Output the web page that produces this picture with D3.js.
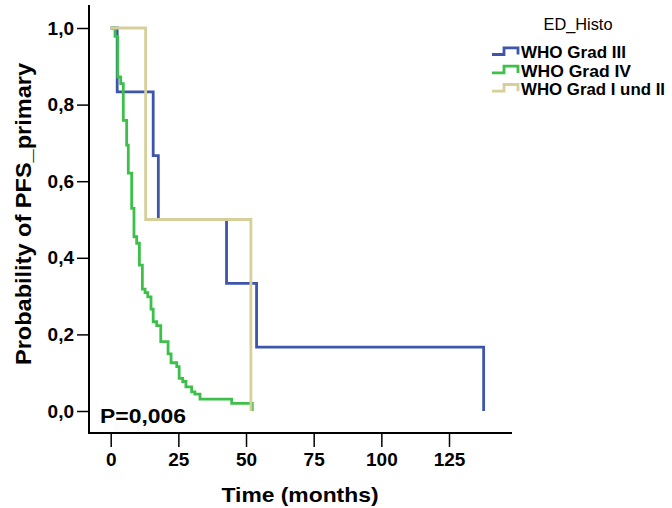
<!DOCTYPE html>
<html>
<head>
<meta charset="utf-8">
<script src="https://cdn.jsdelivr.net/npm/d3@7"></script>
<style>
  html, body { margin: 0; padding: 0; background: #fff; }
  text { font-family: Arial, "Liberation Sans", sans-serif; }
</style>
</head>
<body>
<svg id="chart" width="672" height="508"></svg>
<script>
// ---- Data ----
const seriesNames = ["WHO Grad III", "WHO Grad IV", "WHO Grad I und II"];
const legendTitle = "ED_Histo";
const xTicks = [0, 25, 50, 75, 100, 125];
const yTicks = [0, 0.2, 0.4, 0.6, 0.8, 1.0];
const pText = "P=0,006";

// WHO Grad III: event times (months) and survival after each event
const grade3Times = [0, 2.4, 15.7, 17.6, 42.8, 53.9, 137.8];
const grade3Surv  = [1, 0.833, 0.667, 0.5, 0.333, 0.167, 0];

// WHO Grad IV
const grade4Times = [0, 1.6, 2.6, 3.7, 4.65, 5.9, 6.5, 7.75, 8.6, 9.6, 10.6, 11.7, 12.7, 13.7, 14.9, 15.7, 17.0, 18.5, 21.2, 22.3, 24.4, 25.3, 26.6, 27.8, 29.9, 31.1, 33.0, 44.7, 52.3];
const grade4Surv  = [1, 0.978, 0.872, 0.855, 0.759, 0.694, 0.621, 0.529, 0.455, 0.438, 0.381, 0.318, 0.309, 0.298, 0.266, 0.233, 0.223, 0.181, 0.149, 0.126, 0.116, 0.085, 0.077, 0.063, 0.050, 0.044, 0.031, 0.020, 0];

// WHO Grad I und II
const grade12Times = [0, 12.9, 51.8];
const grade12Surv  = [1, 0.5, 0];

const colors = ["#3d56ab", "#3cc04a", "#d6cf9a"];

// ---- Layout ----
const svg = d3.select("#chart");
const x = d3.scaleLinear().domain([0, 125]).range([110.7, 449]);
const y = d3.scaleLinear().domain([0, 1]).range([411, 28]);
const axisX = 89, axisY = 433;

// Axes lines
svg.append("line").attr("x1", axisX).attr("x2", axisX).attr("y1", 5).attr("y2", axisY + 1)
  .attr("stroke", "#000").attr("stroke-width", 2);
svg.append("line").attr("x1", axisX - 1).attr("x2", 512).attr("y1", axisY).attr("y2", axisY)
  .attr("stroke", "#000").attr("stroke-width", 2);

// Y axis ticks
const yAxis = d3.axisLeft(y).tickValues(yTicks).tickSize(12).tickPadding(3)
  .tickFormat(d => d3.format(".1f")(d).replace(".", ","));
const gy = svg.append("g").attr("transform", `translate(${axisX},0)`).call(yAxis);
gy.select(".domain").remove();
gy.selectAll(".tick line").attr("stroke", "#000").attr("stroke-width", 1.5);
gy.selectAll(".tick text").attr("fill", "#000").attr("font-size", 19).attr("font-weight", "bold")
  .attr("font-family", "Arial, 'Liberation Sans', sans-serif");

// X axis ticks
const xAxis = d3.axisBottom(x).tickValues(xTicks).tickSize(14).tickPadding(6).tickFormat(d3.format("d"));
const gx = svg.append("g").attr("transform", `translate(0,${axisY})`).call(xAxis);
gx.select(".domain").remove();
gx.selectAll(".tick line").attr("stroke", "#000").attr("stroke-width", 1.5);
gx.selectAll(".tick text").attr("fill", "#000").attr("font-size", 19).attr("font-weight", "bold")
  .attr("font-family", "Arial, 'Liberation Sans', sans-serif");

// Axis titles
svg.append("text").attr("x", 300).attr("y", 502).attr("text-anchor", "middle")
  .attr("font-size", 21).attr("font-weight", "bold")
  .attr("textLength", 157).attr("lengthAdjust", "spacingAndGlyphs")
  .text("Time (months)");
svg.append("text").attr("transform", "translate(31,214) rotate(-90)").attr("text-anchor", "middle")
  .attr("font-size", 21.5).attr("font-weight", "bold")
  .attr("textLength", 302).attr("lengthAdjust", "spacingAndGlyphs")
  .text("Probability of PFS_primary");

// Curves
const line = d3.line().x(d => x(d[0])).y(d => y(d[1])).curve(d3.curveStepAfter);
const series = [
  d3.zip(grade3Times, grade3Surv),
  d3.zip(grade4Times, grade4Surv),
  d3.zip(grade12Times, grade12Surv)
];
series.forEach((pts, i) => {
  svg.append("path").attr("d", line(pts)).attr("fill", "none")
    .attr("stroke", colors[i]).attr("stroke-width", 2.8);
});

// P value
svg.append("text").attr("x", 100).attr("y", 423).attr("font-size", 20).attr("font-weight", "bold")
  .attr("textLength", 86).attr("lengthAdjust", "spacingAndGlyphs").text(pText);

// Legend
svg.append("text").attr("x", 578).attr("y", 30).attr("text-anchor", "middle")
  .attr("font-size", 16.5).attr("textLength", 69).attr("lengthAdjust", "spacingAndGlyphs")
  .text(legendTitle);
const legendBase = [58.3, 76.7, 95];
const legendWidths = [105, 110, 144];
seriesNames.forEach((name, i) => {
  const b = legendBase[i];
  svg.append("path")
    .attr("d", `M492,${b - 3.8}H504V${b - 10.5}H518V${b - 3.8}`)
    .attr("fill", "none").attr("stroke", colors[i]).attr("stroke-width", 2.8);
  svg.append("text").attr("x", 521).attr("y", b).attr("font-size", 16).attr("font-weight", "bold")
    .attr("textLength", legendWidths[i]).attr("lengthAdjust", "spacingAndGlyphs").text(name);
});
</script>
</body>
</html>
